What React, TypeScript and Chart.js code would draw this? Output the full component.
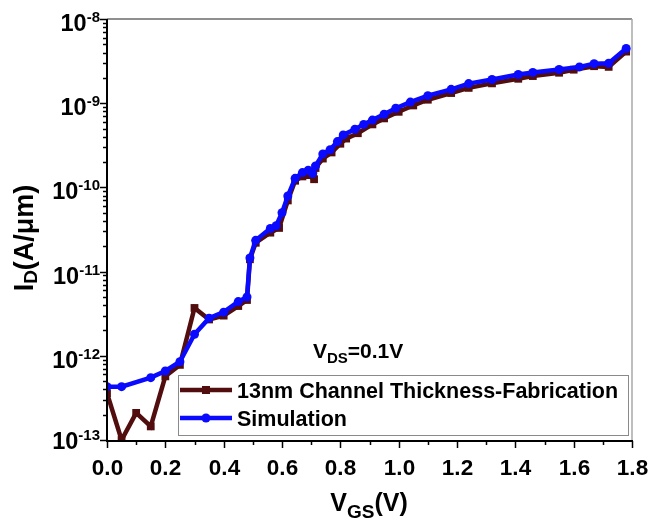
import React, { useEffect, useRef } from "react";
import { Chart, registerables } from "chart.js";
Chart.register(...registerables);

// ---------- data ----------
const FAB_VGS = [0, 0.05, 0.1, 0.15, 0.2, 0.25, 0.3, 0.35, 0.4, 0.45, 0.48, 0.49, 0.51, 0.56, 0.59, 0.62, 0.645, 0.67, 0.69, 0.71, 0.715, 0.74, 0.77, 0.8, 0.82, 0.86, 0.91, 0.95, 1.0, 1.05, 1.1, 1.18, 1.24, 1.32, 1.41, 1.46, 1.55, 1.6, 1.67, 1.72, 1.78];
const FAB_ID = [3.6e-13, 1.0e-13, 2.1e-13, 1.45e-13, 5.7e-13, 7.8e-13, 3.7e-12, 2.7e-12, 3.0e-12, 3.9e-12, 4.6e-12, 1.4e-11, 2.2e-11, 2.9e-11, 3.3e-11, 7.0e-11, 1.2e-10, 1.35e-10, 1.4e-10, 1.25e-10, 1.7e-10, 2.2e-10, 2.6e-10, 3.3e-10, 3.8e-10, 4.4e-10, 5.6e-10, 6.6e-10, 7.9e-10, 9.4e-10, 1.1e-9, 1.32e-9, 1.52e-9, 1.72e-9, 1.95e-9, 2.1e-9, 2.3e-9, 2.5e-9, 2.75e-9, 2.7e-9, 4.1e-9];

const SIM_VGS = [0, 0.05, 0.15, 0.2, 0.25, 0.3, 0.35, 0.4, 0.45, 0.48, 0.49, 0.51, 0.56, 0.58, 0.6, 0.62, 0.645, 0.67, 0.69, 0.705, 0.715, 0.74, 0.765, 0.79, 0.81, 0.85, 0.88, 0.91, 0.95, 0.99, 1.04, 1.1, 1.18, 1.24, 1.32, 1.41, 1.46, 1.55, 1.62, 1.67, 1.72, 1.78];
const SIM_ID = [4.3e-13, 4.3e-13, 5.5e-13, 6.6e-13, 8.5e-13, 1.8e-12, 2.8e-12, 3.3e-12, 4.4e-12, 5.0e-12, 1.45e-11, 2.35e-11, 3.25e-11, 3.5e-11, 5.0e-11, 7.9e-11, 1.28e-10, 1.5e-10, 1.6e-10, 1.46e-10, 1.8e-10, 2.5e-10, 2.8e-10, 3.5e-10, 4.2e-10, 4.9e-10, 5.6e-10, 6.3e-10, 7.4e-10, 8.7e-10, 1.03e-9, 1.23e-9, 1.46e-9, 1.71e-9, 1.91e-9, 2.19e-9, 2.32e-9, 2.51e-9, 2.7e-9, 2.95e-9, 2.98e-9, 4.46e-9];

const X_TICKS = [0, 0.2, 0.4, 0.6, 0.8, 1.0, 1.2, 1.4, 1.6, 1.8];
const X_TICK_LABELS = ["0.0", "0.2", "0.4", "0.6", "0.8", "1.0", "1.2", "1.4", "1.6", "1.8"];
const X_MINOR = [0.1, 0.3, 0.5, 0.7, 0.9, 1.1, 1.3, 1.5, 1.7];
const Y_DECADES = [-13, -12, -11, -10, -9, -8];
const Y_TICK_EXPONENTS = ["-13", "-12", "-11", "-10", "-9", "-8"];
const LEGEND_LABELS = ["13nm Channel Thickness-Fabrication", "Simulation"];
const ANNOTATION = ["V", "DS", "=0.1V"];
const X_TITLE = ["V", "GS", "(V)"];
const Y_TITLE = ["I", "D", "(A/\u03bcm)"];

const FAB_COLOR = "#520e0e";
const SIM_COLOR = "#0a0aff";
const FONT = '"Liberation Sans", Arial, sans-serif';

type Part = { t: string; size: number; dy: number };

function richWidth(ctx: CanvasRenderingContext2D, parts: Part[]) {
  let w = 0;
  for (const p of parts) {
    ctx.font = `bold ${p.size}px ${FONT}`;
    w += ctx.measureText(p.t).width;
  }
  return w;
}

function drawRich(ctx: CanvasRenderingContext2D, parts: Part[], x: number, y: number, align: "left" | "center" | "right") {
  const w = richWidth(ctx, parts);
  let cx = align === "left" ? x : align === "center" ? x - w / 2 : x - w;
  ctx.textAlign = "left";
  ctx.textBaseline = "alphabetic";
  for (const p of parts) {
    ctx.font = `bold ${p.size}px ${FONT}`;
    ctx.fillText(p.t, cx, y + p.dy);
    cx += ctx.measureText(p.t).width;
  }
}

const decorPlugin = {
  id: "decor",
  beforeDatasetsDraw(chart: any) {
    const { ctx, chartArea: a } = chart;
    ctx.save();
    ctx.lineWidth = 1.5;
    ctx.strokeStyle = "#6a6a6a";
    ctx.beginPath();
    ctx.moveTo(a.left, a.top);
    ctx.lineTo(a.right, a.top);
    ctx.stroke();
    ctx.strokeStyle = "#a8a8a8";
    ctx.beginPath();
    ctx.moveTo(a.right, a.top);
    ctx.lineTo(a.right, a.bottom);
    ctx.stroke();
    ctx.restore();
  },
  afterDatasetsDraw(chart: any) {
    const { ctx, chartArea: a, scales } = chart;
    const xs = scales.x;
    const ys = scales.y;
    ctx.save();
    ctx.fillStyle = "#000";
    ctx.strokeStyle = "#000";
    // axis lines
    ctx.lineWidth = 2;
    ctx.beginPath();
    ctx.moveTo(a.left, a.top);
    ctx.lineTo(a.left, a.bottom + 1);
    ctx.lineTo(a.right + 1, a.bottom + 1);
    ctx.stroke();
    // y ticks
    ctx.lineWidth = 1.5;
    for (let i = 0; i < Y_DECADES.length; i++) {
      const e = Y_DECADES[i];
      const py = Math.round(ys.getPixelForValue(Math.pow(10, e))) + 0.5;
      ctx.beginPath();
      ctx.moveTo(a.left - 7, py);
      ctx.lineTo(a.left, py);
      ctx.stroke();
      if (i < Y_DECADES.length - 1) {
        for (let m = 2; m <= 9; m++) {
          const my = Math.round(ys.getPixelForValue(m * Math.pow(10, e))) + 0.5;
          ctx.beginPath();
          ctx.moveTo(a.left - 4, my);
          ctx.lineTo(a.left, my);
          ctx.stroke();
        }
      }
      drawRich(ctx, [
        { t: "10", size: 23.5, dy: 0 },
        { t: Y_TICK_EXPONENTS[i], size: 15, dy: -9 },
      ], a.left - 7, py + (i === 0 ? 8 : 11), "right");
    }
    // x ticks
    const by = a.bottom + 1;
    for (let i = 0; i < X_TICKS.length; i++) {
      const px = Math.round(xs.getPixelForValue(X_TICKS[i])) + 0.5;
      ctx.beginPath();
      ctx.moveTo(px, by);
      ctx.lineTo(px, by + 7);
      ctx.stroke();
      drawRich(ctx, [{ t: X_TICK_LABELS[i], size: 22.5, dy: 0 }], px, by + 34, "center");
    }
    for (const v of X_MINOR) {
      const px = Math.round(xs.getPixelForValue(v)) + 0.5;
      ctx.beginPath();
      ctx.moveTo(px, by);
      ctx.lineTo(px, by + 4);
      ctx.stroke();
    }
    // axis titles
    drawRich(ctx, [
      { t: X_TITLE[0], size: 25, dy: 0 },
      { t: X_TITLE[1], size: 19, dy: 7 },
      { t: X_TITLE[2], size: 25, dy: 0 },
    ], 369, 511, "center");
    ctx.save();
    ctx.translate(33, 238);
    ctx.rotate(-Math.PI / 2);
    drawRich(ctx, [
      { t: Y_TITLE[0], size: 27, dy: 0 },
      { t: Y_TITLE[1], size: 19, dy: 4 },
      { t: Y_TITLE[2], size: 27, dy: 0 },
    ], 0, 0, "center");
    ctx.restore();
    // annotation
    drawRich(ctx, [
      { t: ANNOTATION[0], size: 21, dy: 0 },
      { t: ANNOTATION[1], size: 15, dy: 5 },
      { t: ANNOTATION[2], size: 21, dy: 0 },
    ], 313, 358, "left");
    // legend
    const lx = 178, ly = 375, lw = 450, lh = 60;
    ctx.fillStyle = "#fff";
    ctx.fillRect(lx, ly, lw, lh);
    ctx.strokeStyle = "#8a8a8a";
    ctx.lineWidth = 1;
    ctx.strokeRect(lx + 0.5, ly + 0.5, lw, lh);
    const rows = [
      { y: 390, color: FAB_COLOR, marker: "rect" },
      { y: 418, color: SIM_COLOR, marker: "circle" },
    ];
    rows.forEach((r, i) => {
      ctx.strokeStyle = r.color;
      ctx.fillStyle = r.color;
      ctx.lineWidth = 4.5;
      ctx.beginPath();
      ctx.moveTo(lx + 2, r.y);
      ctx.lineTo(lx + 54, r.y);
      ctx.stroke();
      if (r.marker === "rect") {
        ctx.fillRect(lx + 28 - 4, r.y - 4, 8, 8);
      } else {
        ctx.beginPath();
        ctx.arc(lx + 28, r.y, 4.5, 0, Math.PI * 2);
        ctx.fill();
      }
      ctx.fillStyle = "#000";
      drawRich(ctx, [{ t: LEGEND_LABELS[i], size: 21.5, dy: 0 }], lx + 59, r.y + 8, "left");
    });
    ctx.restore();
  },
};

export default function App() {
  const ref = useRef<HTMLCanvasElement>(null);
  useEffect(() => {
    if (!ref.current) return;
    const chart = new Chart(ref.current, {
      type: "scatter",
      data: {
        datasets: [
          {
            label: LEGEND_LABELS[0],
            data: FAB_VGS.map((v, i) => ({ x: v, y: FAB_ID[i] })),
            showLine: true,
            borderColor: FAB_COLOR,
            backgroundColor: FAB_COLOR,
            borderWidth: 4.5,
            pointStyle: "rect",
            pointRadius: 5.5,
            pointBorderWidth: 0,
            tension: 0,
            order: 1,
          },
          {
            label: LEGEND_LABELS[1],
            data: SIM_VGS.map((v, i) => ({ x: v, y: SIM_ID[i] })),
            showLine: true,
            borderColor: SIM_COLOR,
            backgroundColor: SIM_COLOR,
            borderWidth: 4.5,
            pointStyle: "circle",
            pointRadius: 4.5,
            pointBorderWidth: 0,
            tension: 0,
            order: 0,
          },
        ],
      },
      options: {
        animation: false,
        responsive: false,
        devicePixelRatio: 1,
        layout: { padding: { left: 107, top: 19, right: 18, bottom: 85 } },
        plugins: { legend: { display: false }, tooltip: { enabled: false } },
        scales: {
          x: { type: "linear", min: 0, max: 1.8, display: false },
          y: { type: "logarithmic", min: 1e-13, max: 1e-8, display: false },
        },
      },
      plugins: [decorPlugin],
    });
    return () => chart.destroy();
  }, []);
  return (
    <div style={{ position: "absolute", left: 0, top: 0, width: 650, height: 525, background: "#fff" }}>
      <canvas ref={ref} width={650} height={525} />
    </div>
  );
}
